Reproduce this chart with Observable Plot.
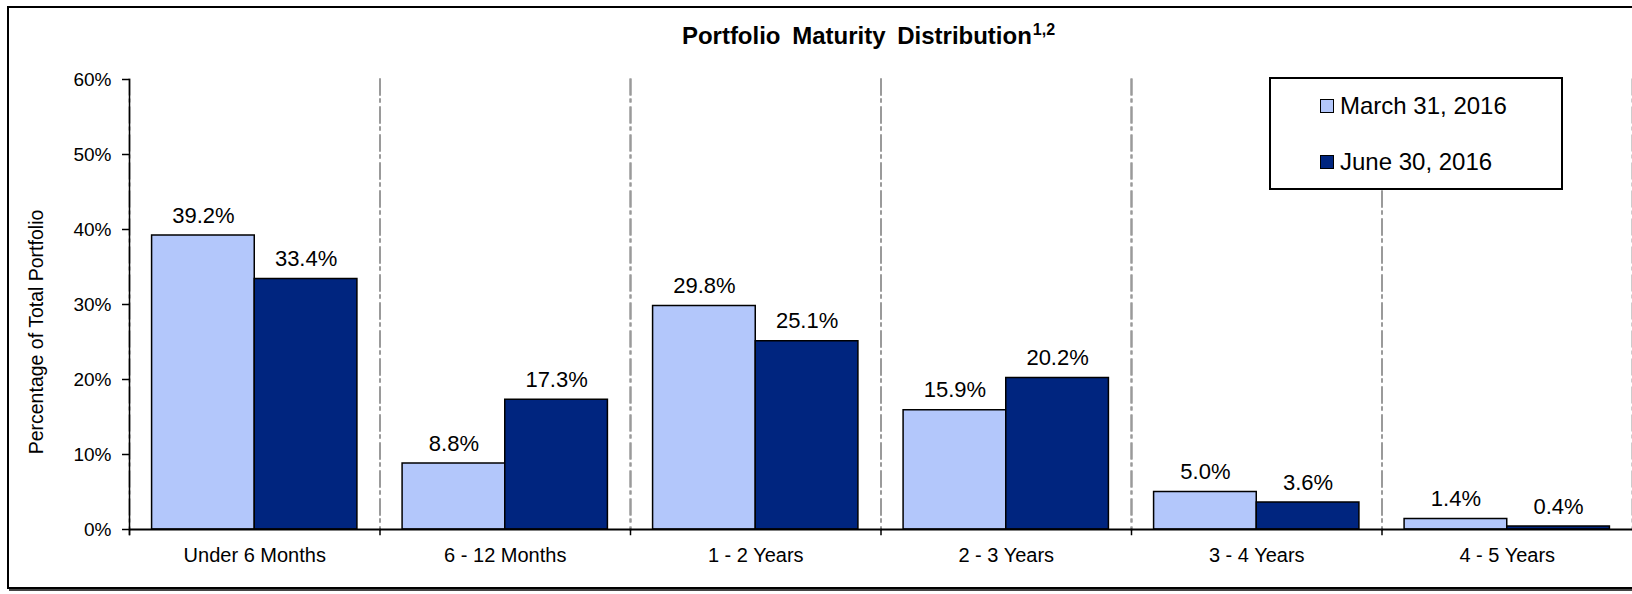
<!DOCTYPE html>
<html>
<head>
<meta charset="utf-8">
<script src="https://cdn.jsdelivr.net/npm/d3@7"></script>
<script src="https://cdn.jsdelivr.net/npm/@observablehq/plot@0.6"></script>
<style>
  html, body { margin: 0; padding: 0; background: #fff; }
  body { font-family: "Liberation Sans", Arial, sans-serif; color: #000; }
  #wrap { position: relative; width: 1632px; height: 594px; overflow: hidden; background: #fff; }
  #frame { position: absolute; left: 7px; top: 6px; width: 1720px; height: 583px; box-sizing: border-box;
           border: 2px solid #000; box-shadow: 2px 2px 0 #444; }
  #chart { position: absolute; left: 0; top: 0; }
  #title { position: absolute; left: 0; width: 1737px; top: 24px; text-align: center; font-weight: bold;
           font-size: 24px; line-height: 24px; word-spacing: 5px; white-space: nowrap; }
  #title sup { font-size: 16px; line-height: 0; vertical-align: 9px; word-spacing: 0; margin-left: 1px; }
  #ylabel { position: absolute; left: 36px; top: 332px; transform: translate(-50%, -50%) rotate(-90deg);
            font-size: 19.5px; white-space: nowrap; }
  #legend { position: absolute; left: 1269px; top: 77px; width: 294px; height: 113px; box-sizing: border-box;
            border: 2px solid #000; background: #fff; }
  .item { position: absolute; left: 49px; font-size: 24px; line-height: 24px; white-space: nowrap; }
  .sw { display: inline-block; width: 12px; height: 12px; border: 1px solid #000; margin-right: 6px; vertical-align: 1px; }
</style>
</head>
<body>
<div id="wrap">
  <div id="frame"></div>
  <div id="chart"></div>
  <div id="title"></div>
  <div id="ylabel"></div>
  <div id="legend"></div>
</div>
<script>
const categories = ["Under 6 Months", "6 - 12 Months", "1 - 2 Years", "2 - 3 Years", "3 - 4 Years", "4 - 5 Years"];
const seriesNames = ["March 31, 2016", "June 30, 2016"];
const march2016 = [39.2, 8.8, 29.8, 15.9, 5.0, 1.4];
const june2016 = [33.4, 17.3, 25.1, 20.2, 3.6, 0.4];
const yTicks = [0, 10, 20, 30, 40, 50, 60];
const seriesColors = ["#B3C7FB", "#00257F"];
const titleText = "Portfolio Maturity Distribution";
const titleNote = "1,2";
const yLabelText = "Percentage of Total Portfolio";

const seriesValues = [march2016, june2016];
const rows = [];
categories.forEach((c, i) => {
  seriesNames.forEach((s, j) => rows.push({category: c, series: s, value: seriesValues[j][i]}));
});

const font = "'Liberation Sans', Arial, sans-serif";
const dash = {stroke: "#9a9a9a", strokeWidth: 2, strokeDasharray: "15 5 2 6"};

const chart = Plot.plot({
  width: 1632,
  height: 594,
  marginLeft: 129,
  marginRight: 0,
  marginTop: 79,
  marginBottom: 65,
  style: {background: "transparent", fontFamily: font, color: "#000", overflow: "visible"},
  fx: {domain: categories, paddingInner: 0, paddingOuter: 0, round: false, label: null},
  x: {domain: seriesNames, paddingInner: 0, paddingOuter: 0.22, round: false, axis: null},
  y: {domain: [0, 60], label: null},
  color: {domain: seriesNames, range: seriesColors},
  marks: [
    Plot.frame({anchor: "left", ...dash}),
    Plot.frame({anchor: "right", ...dash}),
    Plot.frame({anchor: "left", stroke: "#000", strokeWidth: 1.5, insetTop: 450, insetBottom: -5}),
    Plot.barY(rows, {fx: "category", x: "series", y: "value", fill: "series", stroke: "#000", strokeWidth: 1.5}),
    Plot.text(rows, {fx: "category", x: "series", y: "value", text: d => d.value.toFixed(1) + "%",
      lineAnchor: "bottom", dy: -13, fontSize: 22, fill: "#000"}),
    Plot.ruleY([0], {stroke: "#000", strokeWidth: 2}),
    Plot.frame({anchor: "left", facetAnchor: "left", stroke: "#000", strokeWidth: 1.5, insetBottom: -5}),
    Plot.axisY({ticks: yTicks, tickFormat: d => d + "%", tickSize: 7, tickPadding: 11, fontSize: 19,
      stroke: "#000", strokeWidth: 1.5, label: null}),
    Plot.axisFx({anchor: "bottom", tickSize: 0, tickPadding: 18, fontSize: 20, label: null})
  ]
});
document.getElementById("chart").appendChild(chart);

document.getElementById("title").innerHTML = titleText + "<sup>" + titleNote + "</sup>";
document.getElementById("ylabel").textContent = yLabelText;
const legend = document.getElementById("legend");
const tops = [15, 71];
seriesNames.forEach((s, j) => {
  const it = document.createElement("div");
  it.className = "item";
  it.style.top = tops[j] + "px";
  const sw = document.createElement("span");
  sw.className = "sw";
  sw.style.background = seriesColors[j];
  it.appendChild(sw);
  it.appendChild(document.createTextNode(s));
  legend.appendChild(it);
});
</script>
</body>
</html>
